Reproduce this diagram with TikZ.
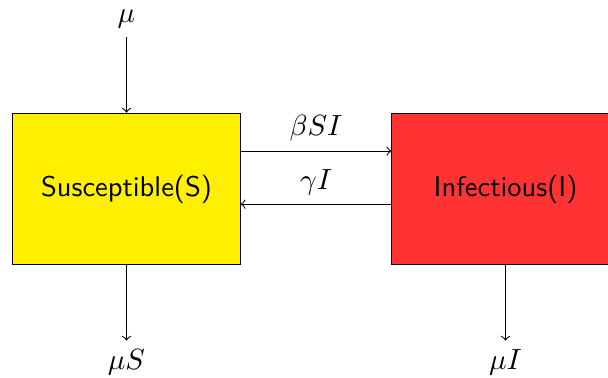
\documentclass[tikz,border=0pt]{standalone}
\usepackage{fontspec}
\usetikzlibrary{positioning}
\definecolor{suscol}{RGB}{255,240,0}
\definecolor{infcol}{RGB}{255,51,51}
\tikzset{
  compartment/.style={draw=black, minimum width=3cm, minimum height=2cm,
    font=\sffamily\fontsize{10.7}{12.8}\selectfont, inner sep=0pt},
  flow/.style={->, draw=black},
  rate/.style={font=\fontsize{10.95}{13.6}\selectfont}
}
\begin{document}
\begin{tikzpicture}
  \useasboundingbox (-1.669,-2.493) rectangle (6.352,2.493);
  % compartments
  \node[compartment, fill=suscol] (S) at (0,0) {Susceptible(S)};
  \node[compartment, fill=infcol] (I) at (5,0) {Infectious(I)};
  % birth inflow and death outflows
  \node[rate, above] (mu) at (0,2) {$\mu$};
  \node[rate, below] (muS) at (0,-2) {$\mu S$};
  \node[rate, below] (muI) at (5,-2) {$\mu I$};
  \draw[flow] (mu) -- (S);
  \draw[flow] (S) -- (muS);
  \draw[flow] (I) -- (muI);
  % infection and recovery
  \coordinate (Sa) at ([yshift=0.5cm]S.east);
  \coordinate (Ia) at ([yshift=0.5cm]I.west);
  \coordinate (Sb) at ([yshift=-0.2cm]S.east);
  \coordinate (Ib) at ([yshift=-0.2cm]I.west);
  \draw[flow] (Sa) -- node[rate, above] (inf) {$\beta S I$} (Ia);
  \draw[flow] (Ib) -- node[rate, above] (rec) {$\gamma I$} (Sb);
\end{tikzpicture}
\end{document}
